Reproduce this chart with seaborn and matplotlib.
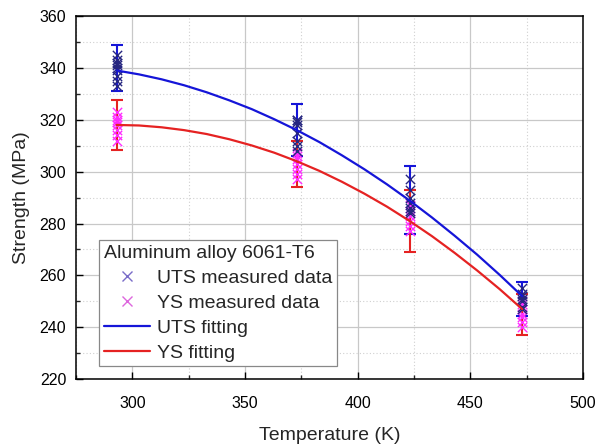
import numpy as np
import pandas as pd
import matplotlib
matplotlib.use("Agg")
import matplotlib.pyplot as plt
from matplotlib.ticker import MultipleLocator
from matplotlib.lines import Line2D
import seaborn as sns

# ---- data ----
temps = [293, 373, 423, 473]

uts_points = [
    [333, 335, 337, 339, 340, 341, 342, 343, 345],
    [308, 310, 312, 315, 318, 319, 320, 320],
    [284, 285, 286, 288, 290, 293, 297],
    [247, 248, 250, 251, 252, 253, 255],
]
ys_points = [
    [312, 314, 316, 318, 319, 320, 321, 323],
    [297, 299, 301, 303, 305, 306, 307],
    [277, 279, 281, 283, 285, 287],
    [240, 242, 244, 245, 247, 249, 250],
]
uts_mean = [340, 316, 289, 251]
uts_err = [9, 10, 13, 6.5]
ys_mean = [318, 303, 281, 245]
ys_err = [9.5, 9, 12, 8]

fit_T = [293, 303, 313, 323, 333, 343, 353, 363, 373, 383, 393, 403,
         413, 423, 433, 443, 453, 463, 473]
uts_fit = [339.0, 337.5, 335.6, 333.3, 330.6, 327.5, 324.1, 320.2, 316.0,
           311.4, 306.3, 300.9, 295.1, 288.9, 282.3, 275.3, 268.0, 260.2, 252.0]
ys_fit = [318.0, 317.8, 317.1, 316.0, 314.5, 312.5, 310.1, 307.3, 304.0,
          300.3, 296.1, 291.5, 286.5, 281.0, 275.1, 268.7, 261.9, 254.7, 247.0]

# ---- styling ----
sns.set_theme(style="white")
plt.rcParams["font.family"] = ["Liberation Sans", "DejaVu Sans"]

fig = plt.figure(figsize=(5.98, 4.45), dpi=100)
ax = fig.add_axes([0.127, 0.148, 0.848, 0.816])

# grid
ax.xaxis.set_major_locator(MultipleLocator(50))
ax.xaxis.set_minor_locator(MultipleLocator(25))
ax.yaxis.set_major_locator(MultipleLocator(20))
ax.yaxis.set_minor_locator(MultipleLocator(10))
ax.grid(True, which="major", color="#c8c8c8", lw=0.9, ls="-", zorder=0)
ax.grid(True, which="minor", color="#d0d0d0", lw=0.8, ls=(0, (1, 2)), zorder=0)
ax.set_axisbelow(True)

uts_pt_c = "#262680"
ys_pt_c = "#ff2cff"
uts_line_c = "#1515d8"
ys_line_c = "#e52222"

df_uts = pd.DataFrame({
    "T": [t for t, pts in zip(temps, uts_points) for _ in pts],
    "S": [v for pts in uts_points for v in pts],
})
df_ys = pd.DataFrame({
    "T": [t for t, pts in zip(temps, ys_points) for _ in pts],
    "S": [v for pts in ys_points for v in pts],
})

# error bars
ax.errorbar(temps, uts_mean, yerr=uts_err, fmt="none", ecolor=uts_line_c,
            elinewidth=1.5, capsize=4, capthick=1.5, zorder=3)
ax.errorbar(temps, ys_mean, yerr=ys_err, fmt="none", ecolor=ys_line_c,
            elinewidth=1.5, capsize=4, capthick=1.5, zorder=3)

sns.scatterplot(data=df_ys, x="T", y="S", marker="x", color=ys_pt_c, s=45,
                linewidth=1.0, ax=ax, zorder=4, legend=False)
sns.scatterplot(data=df_uts, x="T", y="S", marker="x", color=uts_pt_c, s=45,
                linewidth=1.0, ax=ax, zorder=4, legend=False)

fit_df = pd.DataFrame({"T": fit_T, "UTS": uts_fit, "YS": ys_fit})
sns.lineplot(data=fit_df, x="T", y="UTS", color=uts_line_c, lw=1.6, ax=ax, zorder=5)
sns.lineplot(data=fit_df, x="T", y="YS", color=ys_line_c, lw=1.6, ax=ax, zorder=5)

ax.set_xlim(275, 500)
ax.set_ylim(220, 360)
ax.set_xlabel("Temperature (K)", fontsize=14, labelpad=12)
ax.set_ylabel("Strength (MPa)", fontsize=14, labelpad=7)

ax.tick_params(axis="x", which="major", pad=12)
ax.tick_params(axis="y", which="major", pad=7)
ax.tick_params(axis="both", which="major", direction="in", length=5, width=1,
               labelsize=11.5, bottom=True, left=True, top=False, right=False,
               colors="black")
ax.tick_params(axis="both", which="minor", direction="in", length=3, width=1,
               bottom=True, left=True, top=False, right=False)
for s in ax.spines.values():
    s.set_color("black")
    s.set_linewidth(1.1)

handles = [
    Line2D([], [], ls="none", marker="x", color="#7a6cc8", markersize=7, mew=1),
    Line2D([], [], ls="none", marker="x", color="#dd66dd", markersize=7, mew=1),
    Line2D([], [], color=uts_line_c, lw=1.6),
    Line2D([], [], color=ys_line_c, lw=1.6),
]
labels = ["UTS measured data", "YS measured data", "UTS fitting", "YS fitting"]
leg = ax.legend(handles, labels, title="Aluminum alloy 6061-T6",
                loc="lower left", bbox_to_anchor=(0.045, 0.035),
                fontsize=14, title_fontsize=14, alignment="left",
                frameon=True, fancybox=False, edgecolor="#888888",
                framealpha=1, borderpad=0.25, labelspacing=0.38,
                handlelength=2.4, handletextpad=0.35, borderaxespad=0)
leg.get_frame().set_linewidth(0.9)

fig.savefig("out.png", dpi=100)
